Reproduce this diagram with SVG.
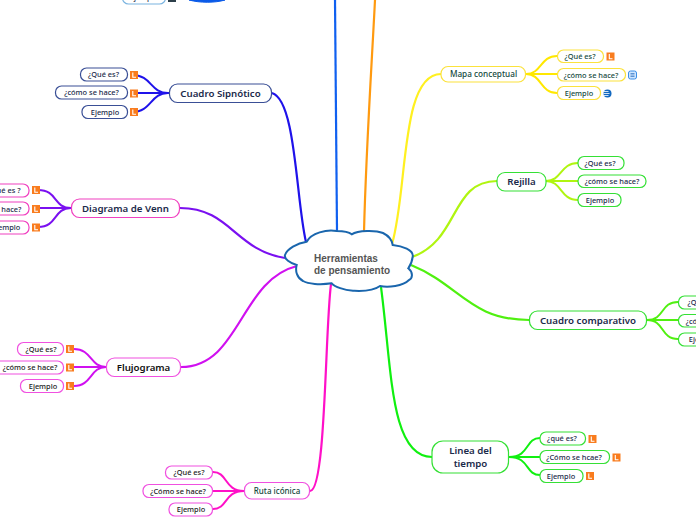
<svg xmlns="http://www.w3.org/2000/svg" width="696" height="520" viewBox="0 0 696 520">
<style>
text{font-family:"Noto Sans","Open Sans",sans-serif;fill:#1b2a4a;text-anchor:middle}
.m{font-size:9.700px;font-weight:600}
.s{font-size:7.400px;font-weight:500}
.n{fill:#fff;stroke-width:1.2}
.c{fill:none;stroke-width:2;stroke-linecap:round}
.c1{fill:none;stroke-width:2.2}
.pk{stroke:#f040c0}.ma{stroke:#f050e0}.gr{stroke:#35e035}.ye{stroke:#fbe23c}.nv{stroke:#3a4f96}
.ic rect{fill:#f97c1e}.ic path{fill:none;stroke:#fff;stroke-width:1.1}
</style>
<defs>
<g id="L" class="ic"><rect width="8" height="8"/><path d="M2.8 1.600V6.200H6"/></g>
</defs>
<g id="connectors">
<path class="c1" stroke="#1f12ea" d="M306 242C296 200 296 100 272 93"/>
<path class="c1" stroke="#7a10f0" d="M285 258C235 250 230 208 180 208"/>
<path class="c1" stroke="#d010f0" d="M297 266C240 280 240 367 181 367"/>
<path class="c1" stroke="#ff10c8" d="M331 284C325 330 326 491 310 491"/>
<path class="c1" stroke="#10f010" d="M381 287C392 370 390 457 432 457"/>
<path class="c1" stroke="#50f010" d="M411 265C460 285 470 320 529 320"/>
<path class="c1" stroke="#b0f510" d="M412 257C460 240 450 181 497 181"/>
<path class="c1" stroke="#fff020" d="M392 244C408 190 400 74 441 74"/>
<path class="c1" stroke="#ff9a10" d="M364 232C366 150 372 60 375 0"/>
<path class="c1" stroke="#1060f0" d="M337 231L335 0"/>
<g stroke="#1f12ea" class="c"><path d="M168 93C150 93 152 75 132 75"/><path d="M168 93H132"/><path d="M168 93C150 93 152 112 132 112"/></g>
<g stroke="#7a10f0" class="c"><path d="M71 208C53 208 58 190 38 190"/><path d="M71 208H38"/><path d="M71 208C53 208 58 227 38 227"/></g>
<g stroke="#d010f0" class="c"><path d="M106 367C90 367 92 349 74 349"/><path d="M106 367H74"/><path d="M106 367C90 367 92 386 74 386"/></g>
<g stroke="#ff10c8" class="c"><path d="M244 491C224 491 228 472 213 472"/><path d="M244 491H213"/><path d="M244 491C224 491 228 509 213 509"/></g>
<g stroke="#10f010" class="c"><path d="M509 457C530 457 525 438 540 438"/><path d="M509 457H540"/><path d="M509 457C530 457 525 475 540 475"/></g>
<g stroke="#50f010" class="c"><path d="M647 320C665 320 660 302 678 302"/><path d="M647 320H678"/><path d="M647 320C665 320 660 339 678 339"/></g>
<g stroke="#b0f510" class="c"><path d="M546 181C562 181 560 163 578 163"/><path d="M546 181H578"/><path d="M546 181C562 181 560 200 578 200"/></g>
<g stroke="#ffe800" class="c"><path d="M526 74C542 74 540 56 557 56"/><path d="M526 74H557"/><path d="M526 74C542 74 540 93 557 93"/></g>
</g>
<g id="center">
<path fill="#fff" stroke="#1a66ad" stroke-width="2" d="M306.700 241.700C311 233 327 229 336.700 231C343 231 349 232 351.700 234.300C358 230 376 230 383 233C389 236 392 240 392.700 245C402 246 414 250 412.700 256.700C412 263 410 266 408.300 268.300C414 273 412 279 409 280C403 286 388 288 380 286C372 292 360 291 353 290.700C344 290 335 287 331.700 283.300C320 285 308 284 303 281C297 278 295 271 296.700 265C290 263 284 259 285 255C287 249 297 243 306.700 241.700Z"/>
<text x="314" y="262" style="font-family:'Liberation Sans',sans-serif;font-size:10px;font-weight:700;fill:#555;text-anchor:start">Herramientas</text>
<text x="314" y="273.500" style="font-family:'Liberation Sans',sans-serif;font-size:10px;font-weight:700;fill:#555;text-anchor:start">de pensamiento</text>
</g>
<g id="top-ejemplo"><rect x="122.500" y="-12" width="43" height="16" rx="6" fill="#fff" stroke="#7ab4e0" stroke-width="1.200"/><text class="s" x="144" y="0">Ejemplo</text><rect x="168" y="-6" width="8" height="8" fill="#2d3f4a"/><path d="M189 0C200 3 215 3 225 0Z" fill="#0a5ae8" stroke="#0a5ae8"/></g>
<g id="cuadro-sinoptico">
<rect class="n nv" x="169.500" y="84" width="102" height="18.500" rx="8"/><text class="m" x="220.500" y="96.500">Cuadro Sipnótico</text>
<rect class="n nv" x="80.500" y="68" width="47" height="13" rx="6"/><text class="s" x="103.500" y="77.300">¿Qué es?</text>
<rect class="n nv" x="55.500" y="86" width="72" height="13" rx="6"/><text class="s" x="91.500" y="95.300">¿cómo se hace?</text>
<rect class="n nv" x="82" y="105.500" width="45.500" height="13" rx="6"/><text class="s" x="105" y="114.800">Ejemplo</text>
<use href="#L" x="130" y="71"/><use href="#L" x="130" y="89.500"/><use href="#L" x="130" y="108"/>
</g>
<g id="diagrama-venn">
<rect class="n pk" x="71.500" y="199" width="108" height="18.500" rx="8"/><text class="m" x="125.500" y="211.500">Diagrama de Venn</text>
<rect class="n pk" x="-20" y="184" width="49" height="13" rx="6"/><text class="s" x="4" y="193.300">¿Qué es ?</text>
<rect class="n pk" x="-52" y="202" width="81" height="13" rx="6"/><text class="s" x="-6" y="212">¿cómo se hace?</text>
<rect class="n pk" x="-20" y="221" width="49" height="13" rx="6"/><text class="s" x="6" y="230.300">Ejemplo</text>
<use href="#L" x="32" y="186"/><use href="#L" x="32" y="205"/><use href="#L" x="32" y="223.500"/>
</g>
<g id="flujograma">
<rect class="n ma" x="106.500" y="358" width="74" height="18.500" rx="8"/><text class="m" x="143.500" y="370.500" style="fill:#111">Flujograma</text>
<rect class="n ma" x="17.500" y="342.500" width="46" height="13" rx="6"/><text class="s" x="41" y="352" style="fill:#222">¿Qué es?</text>
<rect class="n ma" x="-8" y="361" width="71.500" height="13" rx="6"/><text class="s" x="30" y="370.300" style="fill:#222">¿cómo se hace?</text>
<rect class="n ma" x="20.500" y="379.500" width="43" height="13" rx="6"/><text class="s" x="43" y="389" style="fill:#222">Ejemplo</text>
<use href="#L" x="66" y="345"/><use href="#L" x="66" y="363.500"/><use href="#L" x="66" y="382"/>
</g>
<g id="ruta-iconica">
<rect class="n ma" x="244.500" y="482.500" width="65" height="16.500" rx="7"/><text class="s" x="277" y="494" style="font-size:8px;fill:#154a40">Ruta icónica</text>
<rect class="n ma" x="165.500" y="466" width="47" height="13" rx="6"/><text class="s" x="189" y="475.300" style="fill:#222">¿Qué es?</text>
<rect class="n ma" x="143" y="484.500" width="69.500" height="13" rx="6"/><text class="s" x="178" y="494" style="fill:#222">¿Cómo se hace?</text>
<rect class="n ma" x="169" y="503" width="43.500" height="13" rx="6"/><text class="s" x="191" y="512.300" style="fill:#222">Ejemplo</text>
</g>
<g id="mapa-conceptual">
<rect class="n ye" x="441" y="66.500" width="84.500" height="15.500" rx="7"/><text class="s" x="483.500" y="77.300" style="font-size:8.200px;fill:#154a40">Mapa conceptual</text>
<rect class="n ye" x="557.500" y="50" width="46" height="12.500" rx="6"/><text class="s" x="580" y="59.300" style="fill:#154a40">¿Qué es?</text>
<rect class="n ye" x="557.500" y="68.500" width="68" height="12.500" rx="6"/><text class="s" x="591" y="77.800" style="fill:#154a40">¿cómo se hace?</text>
<rect class="n ye" x="557.500" y="86.500" width="43" height="13" rx="6"/><text class="s" x="579" y="96" style="fill:#154a40">Ejemplo</text>
<use href="#L" x="606.500" y="52.500"/>
<rect x="628.500" y="71" width="8" height="8" rx="2" fill="#cfe6ff" stroke="#3a8ee8"/><path d="M630.500 73.500h4M630.500 75h4M630.500 76.500h4" stroke="#2a6ec0" stroke-width=".7"/>
<circle cx="607.500" cy="93.500" r="4" fill="#1268c0"/><path d="M603.500 91.500h5M603.500 93.500h6M603.500 95.500h5" stroke="#fff" stroke-width=".8"/>
</g>
<g id="rejilla">
<rect class="n gr" x="497" y="172.500" width="49" height="18.500" rx="8"/><text class="m" x="521.500" y="185">Rejilla</text>
<rect class="n gr" x="578" y="156.500" width="46" height="13" rx="6"/><text class="s" x="600" y="166">¿Qué es?</text>
<rect class="n gr" x="578" y="175" width="68" height="12.500" rx="6"/><text class="s" x="612" y="184.300">¿cómo se hace?</text>
<rect class="n gr" x="578" y="193.500" width="43" height="13" rx="6"/><text class="s" x="600" y="203">Ejemplo</text>
</g>
<g id="cuadro-comparativo">
<rect class="n gr" x="529.500" y="311" width="117" height="18.500" rx="8"/><text class="m" x="588" y="323.500">Cuadro comparativo</text>
<rect class="n gr" x="678.500" y="296" width="49" height="13" rx="6"/><text class="s" x="703" y="305.300">¿Qué es?</text>
<rect class="n gr" x="678.500" y="314.500" width="70" height="12.500" rx="6"/><text class="s" x="713" y="324">¿cómo se hace?</text>
<rect class="n gr" x="678.500" y="333" width="49" height="13" rx="6"/><text class="s" x="703" y="342.300">Ejemplo</text>
</g>
<g id="linea-tiempo">
<rect class="n gr" x="432" y="441" width="76.500" height="32" rx="11"/><text class="m" x="470.500" y="453.500">Linea del</text><text class="m" x="470.500" y="467">tiempo</text>
<rect class="n gr" x="540" y="432" width="45.500" height="13" rx="6"/><text class="s" x="562" y="441.300">¿qué es?</text>
<rect class="n gr" x="540" y="450.500" width="69.500" height="13" rx="6"/><text class="s" x="574" y="460">¿Cómo se hcae?</text>
<rect class="n gr" x="540" y="469.500" width="43" height="13" rx="6"/><text class="s" x="561" y="478.500">Ejemplo</text>
<use href="#L" x="588.500" y="435"/><use href="#L" x="612.500" y="453.500"/><use href="#L" x="586" y="472"/>
</g>
</svg>
